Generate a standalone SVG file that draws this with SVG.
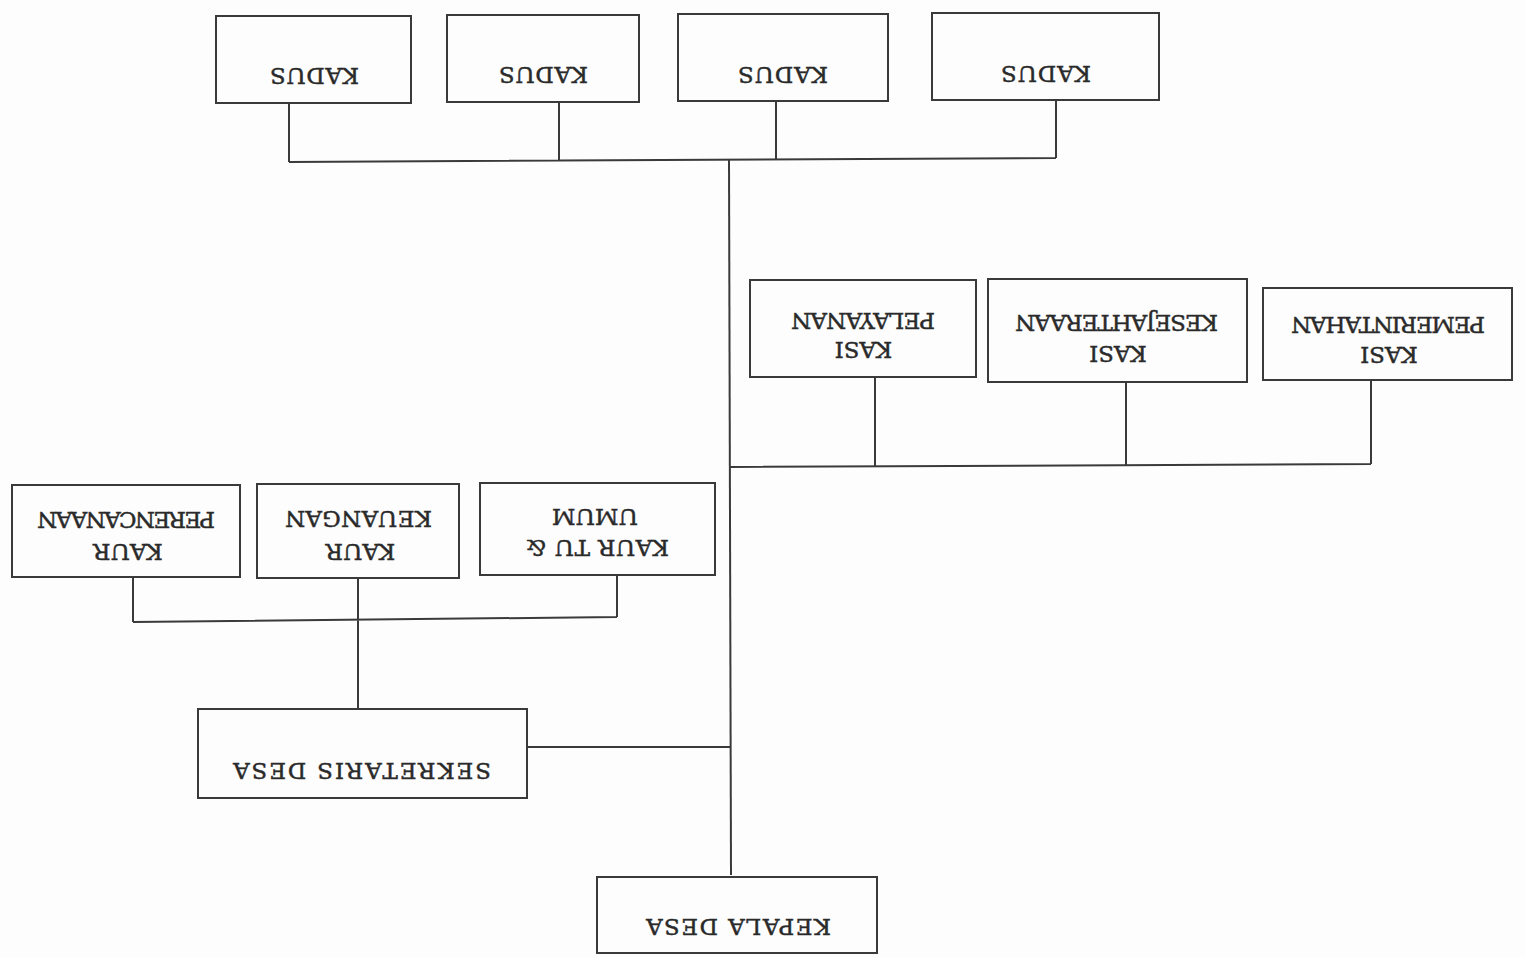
<svg xmlns="http://www.w3.org/2000/svg" width="1525" height="958" viewBox="0 0 1525 958">
<style>
.box{fill:none;stroke:#3a3a3a;stroke-width:2}
.ln{fill:none;stroke:#3a3a3a;stroke-width:2}
.t{font-family:"DejaVu Serif","Liberation Serif",serif;font-size:23px;fill:#2a2a2a;stroke:#2a2a2a;stroke-width:0.45;text-anchor:middle}
</style>
<rect width="1525" height="958" fill="#fdfdfd"/>
<g id="connectors">
<path class="ln" d="M289,103V162M559,102V161M776,101V159M1056,100V158M289,162L1056,158"/>
<path class="ln" d="M729,160L731,875"/>
<path class="ln" d="M730,467L1371,464M875,377V466M1126,382V465M1371,380V464"/>
<path class="ln" d="M133,622L617,617M133,577V622M617,575V617M358,578V709"/>
<path class="ln" d="M527,747H731"/>
</g>
<g id="kadus1"><rect class="box" x="216" y="16" width="195" height="87"/><text class="t" transform="translate(314.5,76.5) rotate(180)" y="8.4" textLength="89">KADUS</text></g>
<g id="kadus2"><rect class="box" x="447" y="15" width="192" height="87"/><text class="t" transform="translate(543.5,75.5) rotate(180)" y="8.4" textLength="89">KADUS</text></g>
<g id="kadus3"><rect class="box" x="678" y="14" width="210" height="87"/><text class="t" transform="translate(783,75) rotate(180)" y="8.4" textLength="90">KADUS</text></g>
<g id="kadus4"><rect class="box" x="932" y="13" width="227" height="87"/><text class="t" transform="translate(1046,74) rotate(180)" y="8.4" textLength="90">KADUS</text></g>
<g id="kasi-pelayanan"><rect class="box" x="750" y="280" width="226" height="97"/><text class="t" transform="translate(863.5,350.5) rotate(180)" y="8.4">KASI</text><text class="t" transform="translate(863,321.5) rotate(180)" y="8.4" textLength="144">PELAYANAN</text></g>
<g id="kasi-kesejahteraan"><rect class="box" x="988" y="279" width="259" height="103"/><text class="t" transform="translate(1118,354) rotate(180)" y="8.4">KASI</text><text class="t" transform="translate(1116.5,323) rotate(180)" y="8.4" textLength="203">KESEJAHTERAAN</text></g>
<g id="kasi-pemerintahan"><rect class="box" x="1263" y="288" width="249" height="92"/><text class="t" transform="translate(1389,355.5) rotate(180)" y="8.4">KASI</text><text class="t" transform="translate(1388,325) rotate(180)" y="8.4" textLength="194">PEMERINTAHAN</text></g>
<g id="kaur-perencanaan"><rect class="box" x="12" y="485" width="228" height="92"/><text class="t" transform="translate(128,552) rotate(180)" y="8.4">KAUR</text><text class="t" transform="translate(126,520.5) rotate(180)" y="8.4" textLength="178">PERENCANAAN</text></g>
<g id="kaur-keuangan"><rect class="box" x="257" y="484" width="202" height="94"/><text class="t" transform="translate(360.5,552) rotate(180)" y="8.4">KAUR</text><text class="t" transform="translate(358.5,519.5) rotate(180)" y="8.4" textLength="147">KEUANGAN</text></g>
<g id="kaur-tu-umum"><rect class="box" x="480" y="483" width="235" height="92"/><text class="t" transform="translate(597.5,548.5) rotate(180)" y="8.4" textLength="143">KAUR TU &amp;</text><text class="t" transform="translate(595,517) rotate(180)" y="8.4">UMUM</text></g>
<g id="sekretaris-desa"><rect class="box" x="198" y="709" width="329" height="89"/><text class="t" transform="translate(362,771) rotate(180)" y="8.4" textLength="258">SEKRETARIS DESA</text></g>
<g id="kepala-desa"><rect class="box" x="597" y="877" width="280" height="76"/><text class="t" transform="translate(738.5,927) rotate(180)" y="8.4" textLength="185">KEPALA DESA</text></g>
</svg>
